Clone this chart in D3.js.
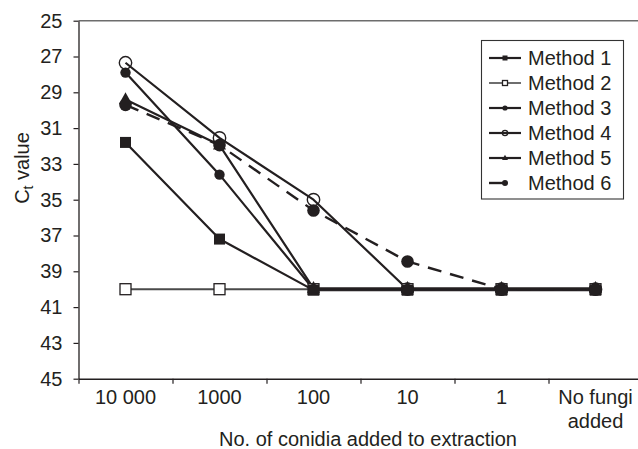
<!DOCTYPE html>
<html>
<head>
<meta charset="utf-8">
<script src="https://cdn.jsdelivr.net/npm/d3@7"></script>
<style>
  html, body { margin: 0; padding: 0; background: #fff; }
  svg { display: block; }
  text { font-family: "Liberation Sans", Arial, Helvetica, sans-serif; fill: #231f20; }
</style>
</head>
<body>
<svg id="chart" width="638" height="449"></svg>
<script>
const categories = ["10 000", "1000", "100", "10", "1", "No fungi added"];
const categoryLines = [["10 000"], ["1000"], ["100"], ["10"], ["1"], ["No fungi", "added"]];
const yTicks = [25, 27, 29, 31, 33, 35, 37, 39, 41, 43, 45];
const method1 = [31.8, 37.2, 40.05, 40.05, 40.05, 40.05];
const method2 = [40, 40, 40, 40, 40, 40];
const method3 = [27.9, 33.6, 40, 40, 40, 40];
const method4 = [27.35, 31.55, 35.0, 40, 40, 40];
const method5 = [29.4, 31.95, 39.95, 39.95, 39.95, 39.95];
const method6 = [29.7, 31.95, 35.6, 38.45, 40, 40];
const seriesNames = ["Method 1", "Method 2", "Method 3", "Method 4", "Method 5", "Method 6"];
const xTitle = "No. of conidia added to extraction";

const ink = "#231f20";
const svg = d3.select("#chart");

const x0 = 78.5, x1 = 642.5;
const xBand = d3.scaleBand().domain(categories).range([x0, x1]).padding(0);
const xEdge = d3.scaleLinear().domain([0, categories.length]).range([x0, x1]);
const y = d3.scaleLinear().domain([25, 45]).range([20.7, 378.7]);
const cx = c => xBand(c) + xBand.bandwidth() / 2;

// top frame line
svg.append("line").attr("x1", x0).attr("x2", 638).attr("y1", y(25)).attr("y2", y(25))
  .attr("stroke", "#6d6d6d").attr("stroke-width", 1.5);

// y axis
const gy = svg.append("g").attr("transform", `translate(${x0},0)`)
  .call(d3.axisLeft(y).tickValues(yTicks).tickSize(5).tickSizeOuter(0).tickPadding(11));
gy.select(".domain").attr("stroke", ink).attr("stroke-width", 1.3);
gy.selectAll(".tick line").attr("stroke", ink).attr("stroke-width", 1.2);
gy.selectAll(".tick text").attr("font-size", 20).attr("font-family", "Liberation Sans, Arial, sans-serif").attr("fill", ink);

// x axis
const gx = svg.append("g").attr("transform", `translate(0,${y(45)})`)
  .call(d3.axisBottom(xEdge).tickValues(d3.range(0, categories.length + 1)).tickFormat("").tickSize(5).tickSizeOuter(0));
gx.select(".domain").attr("stroke", ink).attr("stroke-width", 1.5);
gx.selectAll(".tick line").attr("stroke", ink).attr("stroke-width", 1.2);

// x labels
categories.forEach((c, i) => {
  categoryLines[i].forEach((ln, j) => {
    svg.append("text").attr("x", cx(c)).attr("y", 404 + j * 24)
      .attr("text-anchor", "middle").attr("font-size", 20).text(ln);
  });
});
svg.append("text").attr("x", 368).attr("y", 446).attr("text-anchor", "middle")
  .attr("font-size", 20).text(xTitle);

// y title
const yt = svg.append("text").attr("transform", "translate(29,168) rotate(-90)")
  .attr("text-anchor", "middle").attr("font-size", 20);
yt.append("tspan").text("C");
yt.append("tspan").attr("font-size", 14).attr("dy", 4).text("t");
yt.append("tspan").attr("dy", -4).text(" value");

const data = [method1, method2, method3, method4, method5, method6];
const styles = [
  { stroke: ink, width: 2.2, dash: null, marker: "square", fill: ink, size: 11 },
  { stroke: "#4a4a4a", width: 2, dash: null, marker: "square", fill: "#fff", size: 11 },
  { stroke: ink, width: 2.2, dash: null, marker: "circle", fill: ink, size: 5.2 },
  { stroke: ink, width: 2.2, dash: null, marker: "circle", fill: "none", size: 6.2 },
  { stroke: ink, width: 2.2, dash: null, marker: "triangle", fill: ink, size: 13 },
  { stroke: ink, width: 2.4, dash: "14,9", marker: "circle", fill: ink, size: 6.3 }
];

const line = d3.line().x((d, i) => cx(categories[i])).y(d => y(d));

// lines
data.forEach((vals, k) => {
  const s = styles[k];
  svg.append("path").datum(vals).attr("d", line).attr("fill", "none")
    .attr("stroke", s.stroke).attr("stroke-width", s.width)
    .attr("stroke-dasharray", s.dash).attr("stroke-linejoin", "round");
});

function drawMarker(g, type, px, py, size, fill, strokeCol) {
  if (type === "square") {
    g.append("rect").attr("x", px - size / 2).attr("y", py - size / 2)
      .attr("width", size).attr("height", size)
      .attr("fill", fill).attr("stroke", strokeCol).attr("stroke-width", fill === "#fff" ? 1.3 : 0);
  } else if (type === "circle") {
    g.append("circle").attr("cx", px).attr("cy", py).attr("r", size)
      .attr("fill", fill).attr("stroke", strokeCol).attr("stroke-width", fill === "none" ? 1.4 : 0);
  } else if (type === "triangle") {
    const h = size * 0.9;
    g.append("path").attr("d", `M${px},${py - h * 0.62}L${px + size / 2},${py + h * 0.38}L${px - size / 2},${py + h * 0.38}Z`)
      .attr("fill", fill);
  }
}

// markers (order so filled markers sit above the open circles)
const order = [3, 1, 0, 2, 4, 5];
const gm = svg.append("g");
order.forEach(k => {
  const s = styles[k];
  data[k].forEach((v, i) => {
    drawMarker(gm, s.marker, cx(categories[i]), y(v), s.size, s.fill, ink);
  });
});

// legend
const lg = svg.append("g");
lg.append("rect").attr("x", 481.5).attr("y", 40.5).attr("width", 142).attr("height", 158.5)
  .attr("fill", "#fff").attr("stroke", "#333").attr("stroke-width", 1.1);
const legendSmall = [
  { marker: "square", fill: ink, size: 5 },
  { marker: "square", fill: "#fff", size: 5 },
  { marker: "circle", fill: ink, size: 2.6 },
  { marker: "circle", fill: "none", size: 2.6 },
  { marker: "triangle", fill: ink, size: 6 },
  { marker: "circle", fill: ink, size: 3 }
];
seriesNames.forEach((name, k) => {
  const ry = 58 + k * 25;
  const s = styles[k];
  if (k === 5) {
    lg.append("line").attr("x1", 489).attr("x2", 505).attr("y1", ry).attr("y2", ry)
      .attr("stroke", ink).attr("stroke-width", 2.4);
  } else {
    lg.append("line").attr("x1", 489).attr("x2", 521).attr("y1", ry).attr("y2", ry)
      .attr("stroke", s.stroke).attr("stroke-width", k === 1 ? 1.6 : 2.2);
  }
  const m = legendSmall[k];
  drawMarker(lg, m.marker, 505, ry, m.size, m.fill, ink);
  lg.append("text").attr("x", 528).attr("y", ry + 7).attr("font-size", 20).text(name);
});
</script>
</body>
</html>
